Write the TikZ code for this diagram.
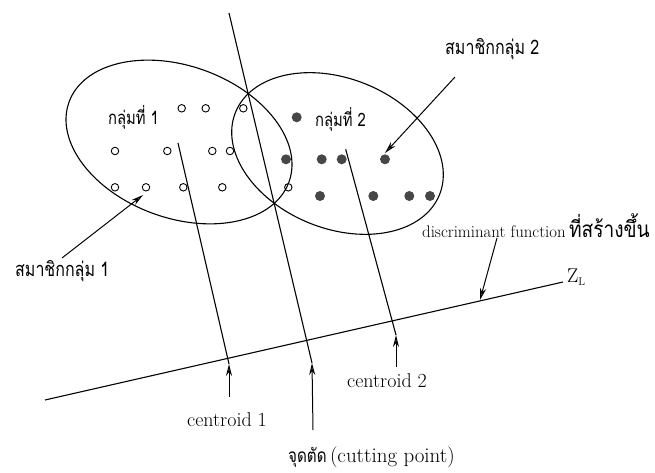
\documentclass[tikz,border=0pt]{standalone}
\usepackage{fontspec}
\newfontfamily\thaifont[Script=Thai,FakeStretch=0.8]{Loma}
\newfontfamily\thaiwide[Script=Thai,FakeStretch=0.85]{Loma}
\usetikzlibrary{shapes.geometric,arrows.meta}
\begin{document}
\begin{tikzpicture}[x=1pt,y=-1pt,
  ln/.style={line width=1.1pt},
  arr/.style={-{Stealth[length=12pt,width=6pt,fill=black!55]}, line width=1pt},
  odot/.style={circle, draw, line width=0.9pt, minimum size=7.5pt, inner sep=0pt},
  fdot/.style={circle, fill=black!72, minimum size=10pt, inner sep=0pt},
  grp/.style={ellipse, draw, line width=1.1pt, inner sep=0pt},
  en/.style={font=\fontsize{20}{24}\selectfont, inner sep=0pt, anchor=base west},
  th/.style={font=\thaifont\fontsize{18.5}{22}\selectfont, inner sep=0pt, anchor=base west},
  thm/.style={font=\thaifont\fontsize{20}{24}\selectfont, inner sep=0pt, anchor=base west}]
\useasboundingbox (0,0) rectangle (655,473);
% groups
\node[grp, minimum width=234pt, minimum height=152pt, rotate=-20] (g1) at (179,142) {};
\node[grp, minimum width=220pt, minimum height=150pt, rotate=-22] (g2) at (337.5,153.5) {};
% members of group 1
\foreach \n/\p in {a/{(181.7,108.3)}, b/{(205.7,108.3)}, c/{(243.3,108.3)},
  d/{(115,151)}, e/{(167.3,151)}, f/{(212.3,151)}, g/{(230,151)},
  h/{(115,187.3)}, i/{(146,187.3)}, j/{(183.3,187.3)}, k/{(222.3,187.3)}, l/{(288.3,187.3)}}
  \node[odot] (o\n) at \p {};
% members of group 2
\foreach \n/\p in {a/{(296.7,117.3)}, b/{(286,159.3)}, c/{(321.7,159.3)}, d/{(341.7,159.3)},
  e/{(385,159.3)}, f/{(320,196)}, g/{(373.3,196)}, h/{(409.3,196)}, i/{(430,196)}}
  \node[fdot] (f\n) at \p {};
% group labels
\node[th] (lab1) at (108,125) {กลุ่มที่ 1};
\node[th] (lab2) at (315,127) {กลุ่มที่ 2};
% discriminant axis Z_L
\coordinate (za) at (45,400);
\coordinate (zb) at (563,282);
\draw[ln] (za) -- (zb);
\node[font=\fontsize{20}{24}\selectfont, inner sep=0pt, anchor=base west] (zl) at (567,282) {Z\textsubscript{\fontsize{11}{12}\selectfont L}};
% centroids and cutting line
\coordinate (c1) at (178,143);
\coordinate (c2) at (345.7,149.3);
\coordinate (ctop) at (229,13);
\coordinate (t1) at (229,364);
\coordinate (t2) at (396,335);
\coordinate (tc) at (312,363);
\draw[ln] (c1) -- (t1);
\draw[ln] (c2) -- (t2);
\draw[ln] (ctop) -- (tc);
% labels below
\node[en] (cen1) at (187,426) {centroid 1};
\node[en] (cen2) at (347,387) {centroid 2};
\node[inner sep=0pt, anchor=base west] (cut) at (288,462) {{\thaifont\fontsize{19}{22}\selectfont จุดตัด} {\fontsize{21}{24}\selectfont (cutting point)}};
\coordinate (a1) at (229,397);
\coordinate (a2) at (396,367);
\coordinate (ac) at (313,430);
\draw[arr] (a1) -- (t1);
\draw[arr] (a2) -- (t2);
\draw[arr] (ac) -- (tc);
% member labels
\node[thm] (m1) at (15,276) {สมาชิกกลุ่ม 1};
\coordinate (m1s) at (62,258);
\coordinate (m1t) at (143,195);
\draw[arr] (m1s) -- (m1t);
\node[thm] (m2) at (445,55) {สมาชิกกลุ่ม 2};
\coordinate (m2s) at (455,77);
\coordinate (m2t) at (385,153);
\draw[arr] (m2s) -- (m2t);
% discriminant function label
\node[inner sep=0pt, anchor=base west] (df) at (422,237) {{\fontsize{16.8}{20}\selectfont discriminant function} {\thaiwide\fontsize{22.5}{26}\selectfont ที่สร้างขึ้น}};
\coordinate (dfs) at (497,238);
\coordinate (dft) at (480,300);
\draw[arr] (dfs) -- (dft);
\end{tikzpicture}
\end{document}
